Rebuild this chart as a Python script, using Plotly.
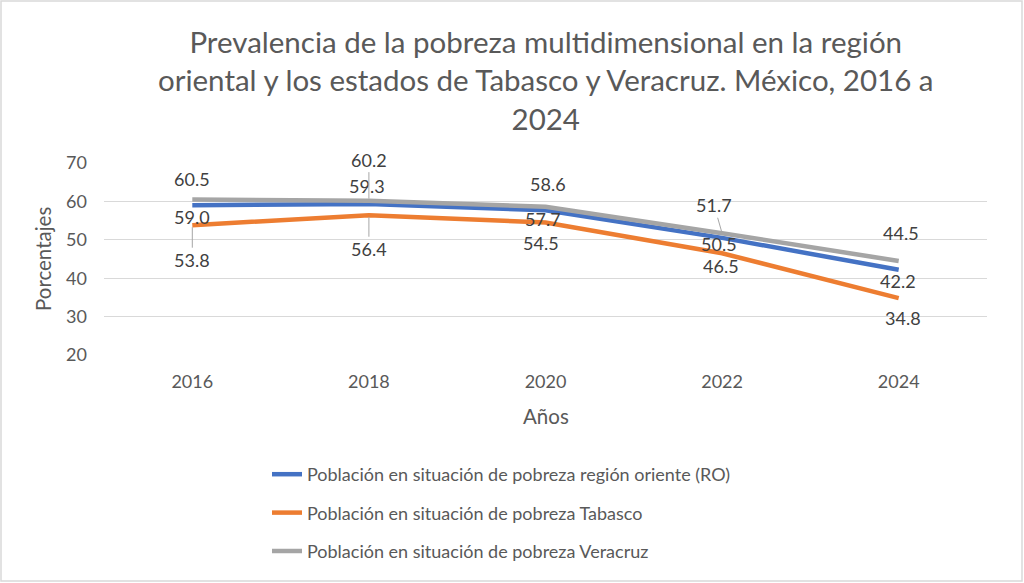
import plotly.graph_objects as go

years = ["2016", "2018", "2020", "2022", "2024"]
series_names = [
    "Población en situación de pobreza región oriente (RO)",
    "Población en situación de pobreza Tabasco",
    "Población en situación de pobreza Veracruz",
]
ro_values = [59.0, 59.3, 57.7, 50.5, 42.2]
tabasco_values = [53.8, 56.4, 54.5, 46.5, 34.8]
veracruz_values = [60.5, 60.2, 58.6, 51.7, 44.5]
y_ticks = [20, 30, 40, 50, 60, 70]

title_text = ("Prevalencia de la pobreza multidimensional en la región<br>"
              "oriental y los estados de Tabasco y Veracruz. México, 2016 a<br>2024")

colors = ["#4472C4", "#ED7D31", "#A5A5A5"]
values = [ro_values, tabasco_values, veracruz_values]

# label placement (pixel offsets): (dx, dy, leader) ; dy positive = upward
label_offsets = [
    [(0, -12, False), (-2, 18, False), (-3, -9, False), (-3, -6, False), (-1, -11, False)],
    [(0, -35, True), (0, -34, True), (-5, -20, False), (-1, -13, False), (4, -20, False)],
    [(0, 20, False), (0, 41, True), (2, 23, False), (-8, 28, True), (2, 28, False)],
]

FONT = "Lato, Carlito, Calibri, sans-serif"
TXT = "#595959"

W, H = 1024, 583
L, R, T, B = 104, 37, 163, 228
PW, PH = W - L - R, H - T - B

fig = go.Figure()
for name, vals, col in zip(series_names, values, colors):
    fig.add_trace(go.Scatter(
        x=years, y=vals, mode="lines", name=name, legendgroup=name,
        line=dict(color=col, width=4.5), hoverinfo="skip",
    ))

annotations = []
for vals, offs in zip(values, label_offsets):
    for i, (v, (dx, dy, leader)) in enumerate(zip(vals, offs)):
        txt = f"{v:.1f}"
        if leader:
            annotations.append(dict(
                x=i, y=v, xref="x", yref="y", text=txt, showarrow=True,
                arrowhead=0, arrowwidth=1, arrowcolor="#A6A6A6",
                ax=dx, ay=-dy, standoff=2,
                font=dict(family=FONT, size=18, color="#404040"),
            ))
        else:
            annotations.append(dict(
                x=i, y=v, xref="x", yref="y", text=txt, showarrow=False,
                xshift=dx, yshift=dy,
                font=dict(family=FONT, size=18, color="#404040"),
            ))

# title
annotations.append(dict(
    x=0.5, y=(H - B - 22) / PH, xref="paper", yref="paper", text=title_text,
    showarrow=False, xanchor="center", yanchor="top", align="center",
    font=dict(family=FONT, size=29.5, color=TXT),
))
# axis titles
annotations.append(dict(
    x=(43 - L) / PW, y=0.5, xref="paper", yref="paper", text="Porcentajes",
    textangle=-90, showarrow=False, font=dict(family=FONT, size=20.5, color=TXT),
    xanchor="center", yanchor="middle",
))
annotations.append(dict(
    x=(546 - L) / PW, y=(H - B - 416) / PH, xref="paper", yref="paper", text="Años",
    showarrow=False, font=dict(family=FONT, size=20.5, color=TXT),
    xanchor="center", yanchor="middle",
))

fig.update_layout(
    width=W, height=H,
    margin=dict(l=L, r=R, t=T, b=B, autoexpand=False),
    paper_bgcolor="white", plot_bgcolor="white",
    xaxis=dict(type="category", range=[-0.5, 4.5], showgrid=False, showline=False,
               zeroline=False, ticks="", tickfont=dict(family=FONT, size=18, color=TXT),
               ticklabelstandoff=14, automargin=False),
    yaxis=dict(range=[20, 70], tickvals=y_ticks, showgrid=True, gridcolor="#D9D9D9",
               gridwidth=1.3, zeroline=False, showline=False, ticks="",
               tickfont=dict(family=FONT, size=18, color=TXT), ticklabelstandoff=16,
               automargin=False),
    showlegend=True,
    legend=dict(orientation="v", x=(267 - L) / PW, xanchor="left",
                y=(H - B - 456) / PH, yanchor="top", tracegroupgap=12,
                font=dict(family=FONT, size=18, color=TXT), bgcolor="rgba(0,0,0,0)"),
    annotations=annotations,
    shapes=[dict(type="rect", xref="paper", yref="paper",
                 x0=(1 - L) / PW, x1=(1022 - L) / PW,
                 y0=(H - B - 581) / PH, y1=(H - B - 1) / PH,
                 line=dict(color="#D9D9D9", width=1.5), fillcolor="rgba(0,0,0,0)",
                 layer="below")],
)

fig.write_html("out.html", config={"displayModeBar": False},
               post_script="document.body.style.margin='0';")
